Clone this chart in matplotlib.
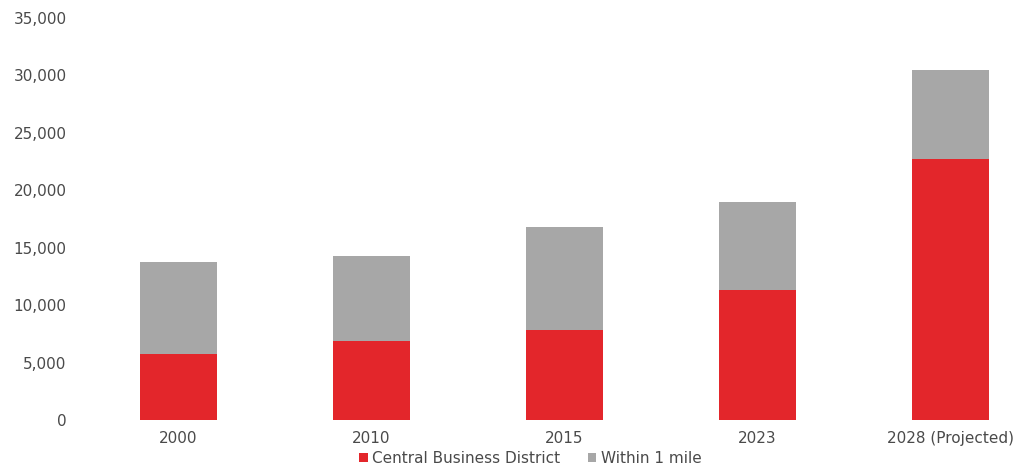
import matplotlib.pyplot as plt

# office inventory by distance band, square feet (thousands)
years = ['2000', '2010', '2015', '2023', '2028 (Projected)']
cbd = [5750, 6900, 7800, 11300, 22700]
within_1_mile = [8000, 7400, 9000, 7700, 7800]

red = '#E3262B'
gray = '#A7A7A7'
text_color = '#4A4A4A'

fig = plt.figure(figsize=(10.16, 4.67), dpi=100)
ax = fig.add_axes([0.0807, 0.1006, 0.919, 0.8608])

x = range(len(years))
ax.bar(x, cbd, width=0.4, color=red, label='Central Business District')
ax.bar(x, within_1_mile, width=0.4, bottom=cbd, color=gray, label='Within 1 mile')

ax.set_xlim(-0.5, 4.34)
ax.set_ylim(0, 35000)
ax.set_yticks(range(0, 35001, 5000))
ax.set_yticklabels([f'{v:,}' for v in range(0, 35001, 5000)])
ax.set_xticks(list(x))
ax.set_xticklabels(years)

ax.tick_params(axis='both', length=0, labelsize=11, labelcolor=text_color)
ax.tick_params(axis='y', pad=11)
ax.tick_params(axis='x', pad=8)
for side in ax.spines.values():
    side.set_visible(False)

fig.legend(loc='center', bbox_to_anchor=(0.522, 0.018), ncol=2, frameon=False,
           fontsize=11, labelcolor=text_color, handlelength=0.55, handleheight=0.55,
           handletextpad=0.3, columnspacing=1.8)

fig.savefig('out.png')
